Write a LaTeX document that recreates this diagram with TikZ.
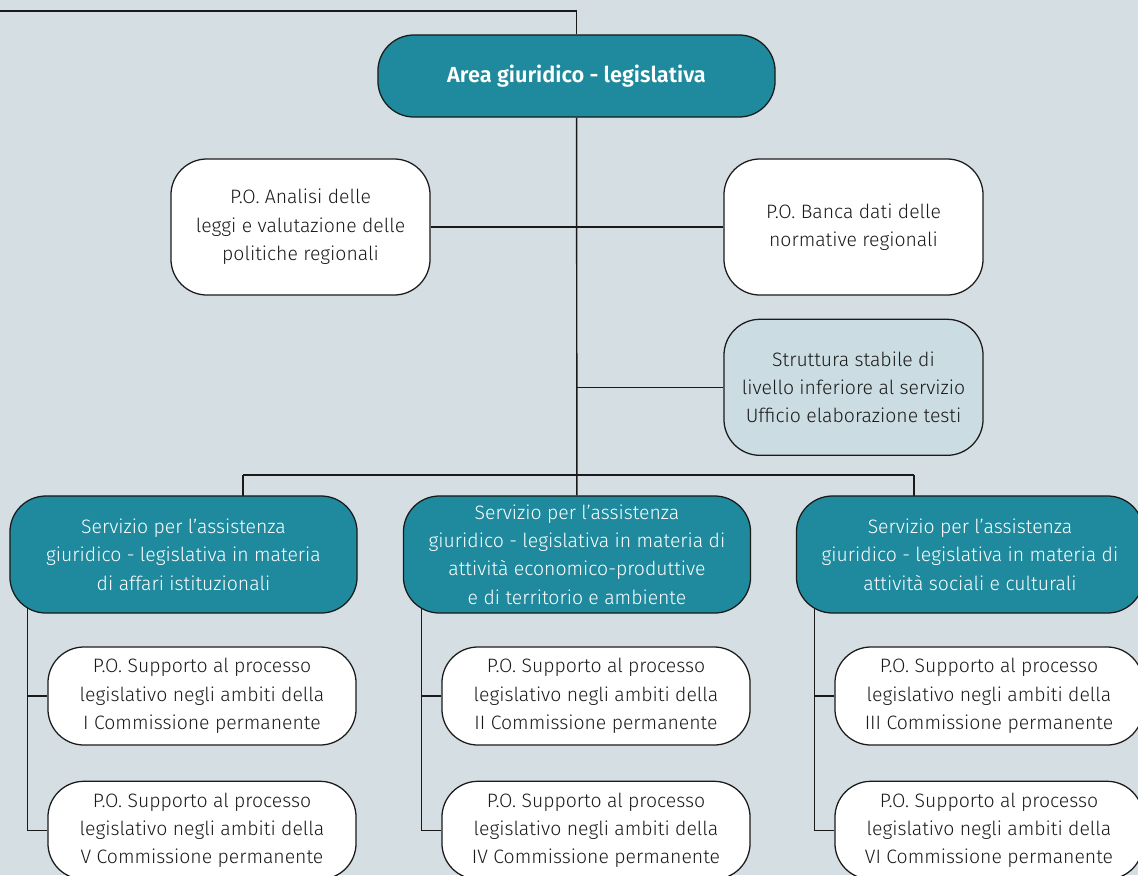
\documentclass[tikz,border=0pt]{standalone}
\usepackage{fontspec}
\setmainfont{Fira Sans}[UprightFont={* Light}, BoldFont={* SemiBold}]
\usepackage{xcolor}
\usetikzlibrary{positioning,calc}
\definecolor{petrol}{HTML}{1F8A9E}
\definecolor{paper}{HTML}{D5DEE2}
\definecolor{mist}{HTML}{CCDCE3}
\definecolor{ink}{HTML}{1A1A1A}
\pgfdeclarelayer{back}
\pgfdeclarelayer{wires}
\pgfsetlayers{back,wires,main}

\begin{document}
\begin{tikzpicture}[
  x=0.025cm, y=-0.025cm,
  node distance=8.75mm,
  box/.style={draw=ink, line width=0.9pt, rounded corners=0.9cm, align=center, text=ink, inner sep=0pt,
    font=\fontsize{13.8pt}{20.2pt}\selectfont},
  head/.style={box, fill=petrol, text=white},
  po/.style={box, fill=white, minimum width=6.475cm, minimum height=3.4cm},
  leaf/.style={box, fill=white, minimum width=7.7cm, minimum height=2.45cm},
  serv/.style={head, minimum width=8.675cm, minimum height=2.925cm},
  wire/.style={line width=1pt, ink}
]
  \useasboundingbox (0,0) rectangle (1138,875);
  \clip (0,0) rectangle (1138,875);
  \begin{pgfonlayer}{back}
    \fill[paper] (0,0) rectangle (1138,875);
  \end{pgfonlayer}

  % top level
  \node[head, minimum width=9.925cm, minimum height=2.05cm, font=\fontsize{15.5pt}{18pt}\selectfont\bfseries] (area) at (576.5,76) {Area giuridico - legislativa};
  \node[po] (analisi) at (300.5,227) {P.O. Analisi delle\\leggi e valutazione delle\\politiche regionali};
  \node[po] (banca) at (853.5,227) {P.O. Banca dati delle\\normative regionali};
  \node[po, fill=mist, below=5.75mm of banca] (ufficio) {Struttura stabile di\\livello inferiore al servizio\\Ufficio elaborazione testi};

  % servizi
  \node[serv] (servA) at (183.5,554.5) {Servizio per l'assistenza\\giuridico - legislativa in materia\\di affari istituzionali};
  \node[serv] (servB) at (577,554.5) {Servizio per l'assistenza\\giuridico - legislativa in materia di\\attività economico-produttive\\e di territorio e ambiente};
  \node[serv] (servC) at (970,554.5) {Servizio per l'assistenza\\giuridico - legislativa in materia di\\attività sociali e culturali};

  % commissioni
  \node[leaf] (comI) at (202,696) {P.O. Supporto al processo\\legislativo negli ambiti della\\I Commissione permanente};
  \node[leaf, below=of comI] (comV) {P.O. Supporto al processo\\legislativo negli ambiti della\\V Commissione permanente};
  \node[leaf] (comII) at (596,696) {P.O. Supporto al processo\\legislativo negli ambiti della\\II Commissione permanente};
  \node[leaf, below=of comII] (comIV) {P.O. Supporto al processo\\legislativo negli ambiti della\\IV Commissione permanente};
  \node[leaf] (comIII) at (989,696) {P.O. Supporto al processo\\legislativo negli ambiti della\\III Commissione permanente};
  \node[leaf, below=of comIII] (comVI) {P.O. Supporto al processo\\legislativo negli ambiti della\\VI Commissione permanente};

  \coordinate (top) at (0,11);
  \coordinate (ja) at (243,475);
  \coordinate (jc) at (914,475);

  \begin{pgfonlayer}{wires}
    \draw[wire] (top) -| (area);
    \draw[wire] (area) -- (servB);
    \draw[wire] (analisi.east) -- (banca.west);
    \draw[wire] (ufficio.west) -- (ufficio.west -| area);
    \draw[wire] (ja) -- (jc);
    \draw[wire] (ja) -- (ja |- servA);
    \draw[wire] (jc) -- (jc |- servC);
    % rami verso le commissioni
    \foreach \s/\a/\b in {servA/comI/comV, servB/comII/comIV, servC/comIII/comVI}{
      \coordinate (c) at ([xshift=4.6mm, yshift=5mm]\s.south west);
      \draw[wire] (c) |- (\b.west);
      \draw[wire] (c |- \a.west) -- (\a.west);
    }
  \end{pgfonlayer}
\end{tikzpicture}
\end{document}
